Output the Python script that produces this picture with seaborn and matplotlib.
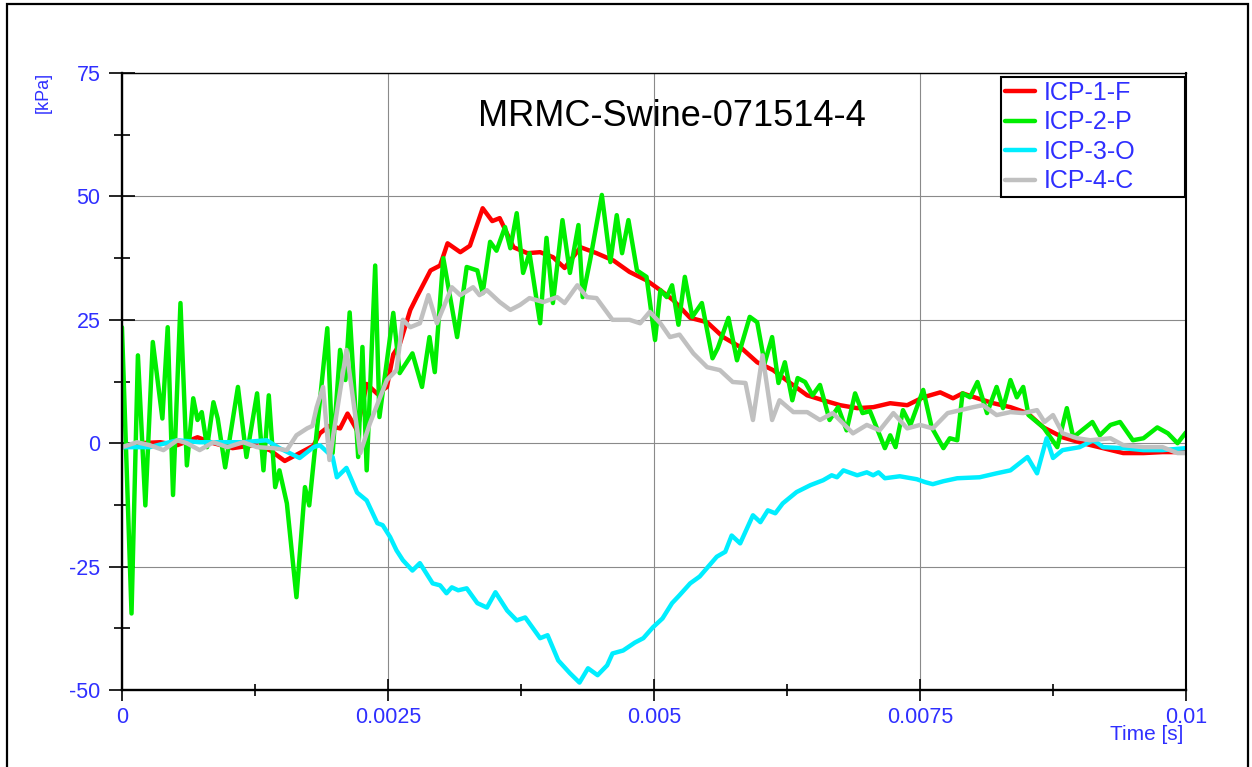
#!/usr/bin/env python3
"""
ICP pressure traces for test MRMC-Swine-071514-4.

Four intracranial pressure channels (kPa) over the first 10 ms.
Saves the figure as out.png.
"""
import numpy as np
import matplotlib
matplotlib.use("Agg")
import matplotlib.pyplot as plt
from matplotlib.patches import Rectangle
from matplotlib.ticker import MultipleLocator, FuncFormatter
import seaborn as sns

# Data (time in ms, pressure in kPa)
TITLE = "MRMC-Swine-071514-4"
SERIES_NAMES = ["ICP-1-F", "ICP-2-P", "ICP-3-O", "ICP-4-C"]
SERIES_COLORS = ["#ff0000", "#00ee00", "#00eeff", "#c0c0c0"]

icp1_t = [0, 0.17, 0.36, 0.52, 0.71, 0.86, 1.04, 1.23, 1.39, 1.53,
          1.67, 1.80, 1.86, 1.95, 2.05, 2.12, 2.21, 2.30, 2.40, 2.49,
          2.55, 2.61, 2.71, 2.77, 2.90, 2.99, 3.06, 3.18, 3.27, 3.39,
          3.48, 3.55, 3.68, 3.81, 3.93, 4.05, 4.16, 4.31, 4.46, 4.62,
          4.77, 4.93, 5.06, 5.18, 5.34, 5.50, 5.65, 5.81, 5.97, 6.12,
          6.28, 6.44, 6.59, 6.75, 6.91, 7.06, 7.22, 7.38, 7.53, 7.69,
          7.81, 7.90, 8.04, 8.19, 8.35, 8.51, 8.66, 8.84, 9.03, 9.22,
          9.41, 9.60, 9.78, 10.0]
icp1_p = [-0.8, 0, 0.2, -0.4, 1.2, 0, -1, -0.4, -1.4, -3.6,
          -2, -0.5, 2.0, 3.5, 3.0, 6, 2.6, 12, 10, 11.4,
          18, 20, 27, 29.6, 35, 36, 40.5, 38.7, 40, 47.6,
          45, 45.6, 39.7, 38.5, 38.7, 37.7, 35.5, 39.7, 38.5, 37,
          34.7, 33, 31, 29, 25.4, 24.5, 21.5, 19.5, 16.4, 14.8,
          12.2, 9.7, 8.7, 7.7, 7.1, 7.3, 8.1, 7.7, 9.3, 10.3,
          9.1, 10.1, 9.1, 8.1, 7.3, 6.1, 3.2, 1.2, 0, -1,
          -2, -2, -1.8, -1.8]

icp2_t = [0, 0.09, 0.15, 0.22, 0.29, 0.38, 0.43, 0.48, 0.55, 0.61,
          0.67, 0.71, 0.75, 0.80, 0.86, 0.90, 0.97, 1.09, 1.17, 1.27,
          1.33, 1.38, 1.44, 1.48, 1.55, 1.64, 1.72, 1.76, 1.93, 1.98,
          2.05, 2.10, 2.14, 2.22, 2.26, 2.30, 2.38, 2.42, 2.55, 2.61,
          2.73, 2.82, 2.89, 2.94, 3.02, 3.15, 3.24, 3.34, 3.39, 3.46,
          3.52, 3.60, 3.65, 3.71, 3.77, 3.83, 3.93, 3.99, 4.05, 4.14,
          4.21, 4.29, 4.33, 4.40, 4.51, 4.59, 4.65, 4.70, 4.76, 4.84,
          4.93, 5.01, 5.06, 5.12, 5.17, 5.23, 5.29, 5.36, 5.45, 5.55,
          5.60, 5.70, 5.78, 5.90, 5.97, 6.04, 6.11, 6.17, 6.23, 6.30,
          6.35, 6.42, 6.49, 6.56, 6.65, 6.73, 6.81, 6.89, 6.96, 7.03,
          7.17, 7.22, 7.27, 7.34, 7.41, 7.53, 7.61, 7.72, 7.78, 7.85,
          7.90, 7.97, 8.04, 8.13, 8.22, 8.28, 8.35, 8.41, 8.47, 8.52,
          8.66, 8.79, 8.88, 8.94, 9.12, 9.19, 9.29, 9.38, 9.50, 9.60,
          9.73, 9.83, 9.92, 10.0]
icp2_p = [23.5, -34.5, 17.8, -12.6, 20.5, 5, 23.5, -10.5, 28.4, -4.5,
          9.1, 4.7, 6.3, -0.8, 8.3, 5, -4.9, 11.4, -2.8, 10.1,
          -5.5, 9.7, -8.9, -5.5, -12.2, -31.2, -8.9, -12.6, 23.3, -2,
          18.9, 12.8, 26.5, -2.8, 19.5, -5.5, 36, 5.3, 26.4, 14.2,
          18.2, 11.4, 21.5, 14.4, 37.5, 21.5, 35.7, 35, 30.4, 40.8,
          39, 43.8, 39.5, 46.6, 34.5, 38.5, 24.3, 41.6, 28.4, 45.2,
          34.5, 44.2, 29.6, 37.1, 50.3, 36.7, 46.2, 38.5, 45.2, 35,
          33.7, 20.9, 31, 29.6, 32, 24, 33.7, 25.6, 28.4, 17.2,
          19.3, 25.4, 16.8, 25.6, 24.5, 16.2, 21.5, 12.2, 16.4, 8.7,
          13.2, 12.4, 9.7, 11.8, 4.7, 7.3, 2.6, 10.1, 6.1, 6.5,
          -1, 1.6, -0.8, 6.7, 3.7, 10.8, 3.2, -1, 1, 0.6,
          10.1, 9.3, 12.4, 6.1, 11.4, 7.1, 12.8, 9.3, 11.4, 5.7,
          3.2, -0.8, 7.1, 1.2, 4.3, 1.6, 3.7, 4.3, 0.6, 1,
          3.2, 2, 0, 2.2]

icp3_t = [0, 0.26, 0.52, 0.73, 0.95, 1.14, 1.36, 1.48, 1.67, 1.80,
          1.86, 1.98, 2.02, 2.11, 2.21, 2.30, 2.40, 2.45, 2.52, 2.58,
          2.64, 2.73, 2.80, 2.92, 2.99, 3.05, 3.10, 3.16, 3.24, 3.34,
          3.43, 3.51, 3.62, 3.71, 3.79, 3.93, 4.00, 4.10, 4.21, 4.30,
          4.38, 4.47, 4.56, 4.61, 4.71, 4.82, 4.90, 4.99, 5.08, 5.17,
          5.24, 5.34, 5.43, 5.53, 5.59, 5.67, 5.73, 5.81, 5.93, 6.00,
          6.07, 6.14, 6.21, 6.34, 6.47, 6.59, 6.67, 6.72, 6.78, 6.91,
          7.00, 7.06, 7.11, 7.17, 7.31, 7.47, 7.55, 7.62, 7.72, 7.85,
          8.06, 8.22, 8.35, 8.51, 8.60, 8.69, 8.75, 8.84, 9.00, 9.13,
          9.22, 9.41, 9.60, 9.78, 10.0]
icp3_p = [-0.8, -0.8, 0.6, 0.2, 0.2, 0.2, 0.6, -1, -3, -0.8,
          -0.4, -2.8, -6.9, -5, -10, -11.6, -16.2, -16.6, -19, -21.7,
          -23.7, -25.8, -24.3, -28.4, -28.8, -30.4, -29.2, -29.8, -29.4, -32.4,
          -33.3, -30.2, -33.9, -35.9, -35.3, -39.5, -38.9, -44, -46.6, -48.5,
          -45.6, -47, -45, -42.6, -42, -40.4, -39.5, -37.3, -35.5, -32.4,
          -30.8, -28.4, -27, -24.5, -23, -22, -18.7, -20.3, -14.6, -16,
          -13.6, -14.2, -12.2, -9.9, -8.5, -7.5, -6.5, -6.9, -5.5, -6.5,
          -5.9, -6.5, -5.9, -7.1, -6.7, -7.3, -7.9, -8.3, -7.7, -7.1,
          -6.9, -6.1, -5.5, -2.8, -6.1, 1, -3, -1.4, -0.8, 0.6,
          -0.8, -1, -1.4, -1.4, -1]

icp4_t = [0, 0.14, 0.26, 0.39, 0.52, 0.61, 0.73, 0.86, 0.99, 1.14,
          1.27, 1.42, 1.55, 1.64, 1.74, 1.79, 1.83, 1.89, 1.95, 2.11,
          2.24, 2.33, 2.49, 2.58, 2.64, 2.71, 2.80, 2.88, 2.96, 3.10,
          3.18, 3.30, 3.36, 3.43, 3.55, 3.65, 3.74, 3.83, 3.96, 4.09,
          4.16, 4.28, 4.37, 4.46, 4.61, 4.77, 4.87, 4.96, 5.06, 5.15,
          5.24, 5.37, 5.50, 5.62, 5.74, 5.86, 5.93, 6.02, 6.11, 6.18,
          6.31, 6.44, 6.56, 6.68, 6.87, 7.00, 7.12, 7.25, 7.38, 7.50,
          7.62, 7.76, 7.88, 8.00, 8.09, 8.22, 8.35, 8.47, 8.60, 8.67,
          8.75, 8.84, 8.98, 9.10, 9.29, 9.41, 9.60, 9.78, 9.92, 10.0]
icp4_p = [-0.8, 0.2, -0.4, -1.4, 0.6, 0, -1.4, 0.2, -0.8, 0.2,
          -0.8, -1, -1.4, 1.6, 3, 3.5, 7.3, 11.4, -3.4, 18.9,
          -2, 4, 12.8, 14.8, 25, 23.5, 24.3, 30, 24.3, 31.6,
          30, 31.6, 30, 31, 28.6, 27, 28, 29.4, 28.6, 29.6,
          28.4, 32, 29.6, 29.4, 25, 25, 24.3, 26.6, 24.3, 21.5,
          22, 18.2, 15.4, 14.8, 12.4, 12.2, 4.7, 17.8, 4.7, 8.7,
          6.3, 6.3, 4.7, 6.1, 2, 3.7, 2.6, 6.1, 3, 3.7,
          3, 6.1, 6.7, 7.3, 7.7, 5.7, 6.3, 6.1, 6.7, 4.3,
          5.7, 2, 1, 0.6, 1, -0.4, -0.8, -0.8, -2, -2]

BLUE = "#2f2fff"


def main():
    sns.set_style("white")
    plt.rcParams["font.family"] = ["Liberation Sans", "DejaVu Sans"]

    fig = plt.figure(figsize=(12.52, 7.67), dpi=100)
    ax = fig.add_axes([0.0974, 0.1004, 0.8499, 0.8044])

    # Plot each channel (time converted from ms to s)
    traces = [(icp1_t, icp1_p), (icp2_t, icp2_p), (icp3_t, icp3_p), (icp4_t, icp4_p)]
    for (t, p), name, color in zip(traces, SERIES_NAMES, SERIES_COLORS):
        sns.lineplot(x=np.array(t) / 1000.0, y=p, ax=ax, color=color, lw=3.2,
                     label=name, sort=False, estimator=None,
                     solid_joinstyle="round", solid_capstyle="round")

    # Axis limits and ticks
    ax.set_xlim(0, 0.01)
    ax.set_ylim(-50, 75)
    ax.xaxis.set_major_locator(MultipleLocator(0.0025))
    ax.xaxis.set_minor_locator(MultipleLocator(0.00125))
    ax.yaxis.set_major_locator(MultipleLocator(25))
    ax.yaxis.set_minor_locator(MultipleLocator(12.5))
    ax.xaxis.set_major_formatter(FuncFormatter(lambda v, pos: f"{v:g}"))
    ax.yaxis.set_major_formatter(FuncFormatter(lambda v, pos: f"{v:g}"))

    ax.tick_params(axis="y", which="major", direction="inout", length=19, width=1.2,
                   color="black", labelcolor=BLUE, labelsize=15.5, pad=6, left=True)
    ax.tick_params(axis="y", which="minor", direction="inout", length=11, width=1.2,
                   color="black", left=True)
    ax.tick_params(axis="x", which="major", direction="inout", length=16, width=1.2,
                   color="black", labelcolor=BLUE, labelsize=15.5, pad=4, bottom=True)
    ax.tick_params(axis="x", which="minor", direction="inout", length=9, width=1.2,
                   color="black", bottom=True)

    ax.grid(True, which="major", color="#8a8a8a", lw=0.8)
    ax.set_axisbelow(True)

    # Spines
    ax.spines["left"].set_linewidth(1.7)
    ax.spines["bottom"].set_linewidth(1.7)
    ax.spines["right"].set_linewidth(1.5)
    ax.spines["top"].set_linewidth(1.0)
    for s in ax.spines.values():
        s.set_color("black")
        s.set_visible(True)
    ax.set_xlabel("")
    ax.set_ylabel("")

    # Title inside the plot area
    ax.text(0.517, 0.930, TITLE, transform=ax.transAxes, ha="center", va="center",
            fontsize=26, color="black")

    # Axis unit labels
    fig.text(43 / 1252, 1 - 92 / 767, "[kPa]", rotation=90, ha="center", va="center",
             fontsize=13, color=BLUE)
    fig.text(1183 / 1252, 1 - 734 / 767, "Time [s]", ha="right", va="center",
             fontsize=15, color=BLUE)

    # Legend
    leg = ax.legend(loc="upper left", bbox_to_anchor=(0.826, 0.7935, 0.173, 0.2),
                    mode="expand", borderaxespad=0, fontsize=18, labelcolor=BLUE,
                    handlelength=1.2, handletextpad=0.35, labelspacing=0.22,
                    borderpad=0.15, fancybox=False, framealpha=1)
    leg.get_frame().set_edgecolor("black")
    leg.get_frame().set_linewidth(1.5)

    # Outer frame around the whole figure
    fig.patches.append(Rectangle((7 / 1252, -0.02), 1241 / 1252, 1.02 - 3.5 / 767,
                                 transform=fig.transFigure, fill=False,
                                 edgecolor="black", lw=1.6, clip_on=False))

    fig.savefig("out.png", dpi=100, facecolor="white")


if __name__ == "__main__":
    main()
